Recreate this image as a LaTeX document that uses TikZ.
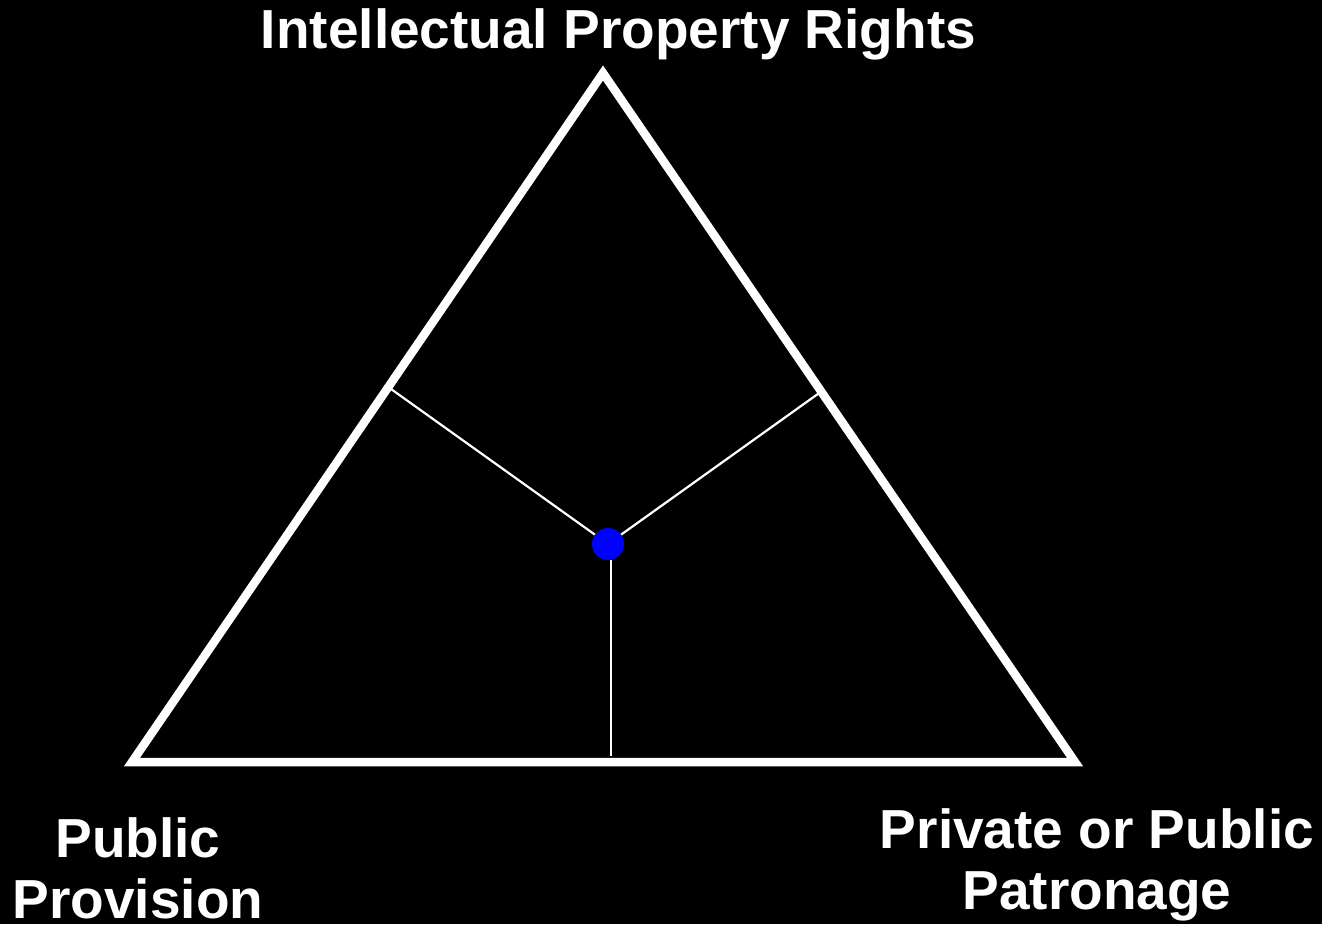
\documentclass[tikz,border=0pt]{standalone}
\usepackage{fontspec}
\setmainfont{Liberation Sans}
\definecolor{dotblue}{RGB}{0,0,255}
\begin{document}
\begin{tikzpicture}[x=1pt,y=-1pt,
  lbl/.style={text=white,font=\fontsize{55}{61}\selectfont\bfseries,inner sep=0pt,align=center},
  edge/.style={draw=white,line width=8.5pt,line join=miter},
  spoke/.style={draw=white,line width=2.2pt},
  hub/.style={circle,fill=dotblue,minimum size=32pt,inner sep=0pt}]
\fill[black] (0,0) rectangle (1322,924);
\useasboundingbox (0,0) rectangle (1322,924);
\coordinate (T) at (603,73);
\coordinate (L) at (132,762);
\coordinate (R) at (1075,762);
\draw[edge] (T) -- (L) -- (R) -- cycle;
\node[hub] (C) at (608,544) {};
\coordinate (FL) at (391,389);
\coordinate (FR) at (822,391);
\coordinate (FB) at (611,756);
\draw[spoke] (FL) -- (C);
\draw[spoke] (FR) -- (C);
\draw[spoke] (C.south -| FB) -- (FB);
\node[lbl,anchor=base] (top) at (618.5,48) {Intellectual Property Rights};
\node[lbl,anchor=base] (left) at (138,918) {Public\\Provision};
\node[lbl,anchor=base] (right) at (1097,909) {Private or Public\\Patronage};
\end{tikzpicture}
\end{document}
